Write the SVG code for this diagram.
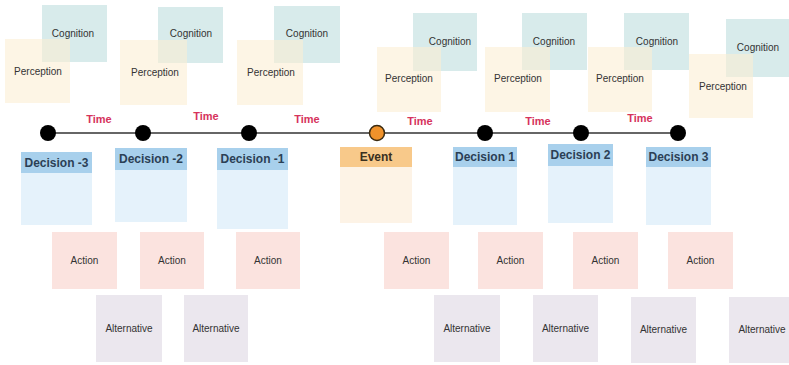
<svg xmlns="http://www.w3.org/2000/svg" width="789" height="365" viewBox="0 0 789 365">
<style>
text{font-family:"Liberation Sans",Arial,sans-serif;text-anchor:middle;dominant-baseline:central}
.cog{fill:#d8ebeb}
.per{fill:#fcefd4;opacity:0.6}
.lbl{font-size:10px;fill:#333}
.dh{fill:#a8d0ec}
.db{fill:#e5f2fb}
.eh{fill:#f8c98a}
.eb{fill:#fdf3e6}
.hd{font-size:12px;font-weight:bold;fill:#2b3f55}
.act{fill:#fbe3df}
.alt{fill:#ebe7ee}
.time{font-size:11px;font-weight:bold;fill:#d6335c}
.dot{fill:#000}
.edot{fill:#f0922b;stroke:#3a2a10;stroke-width:1.5}
.ln{stroke:#333;stroke-width:1.5;fill:none}
</style>
<rect width="789" height="365" fill="#fff"/>
<g id="connectors">
<line class="ln" x1="48" y1="133" x2="678" y2="133"/>
</g>
<g id="cp1"><rect class="cog" x="42" y="5" width="65" height="57"/><rect class="per" x="5" y="39" width="65" height="64"/><text class="lbl" x="73" y="33">Cognition</text><text class="lbl" x="38" y="71">Perception</text></g>
<g id="cp2"><rect class="cog" x="158" y="7" width="65" height="56"/><rect class="per" x="120" y="40" width="67" height="65"/><text class="lbl" x="191" y="33">Cognition</text><text class="lbl" x="155" y="72">Perception</text></g>
<g id="cp3"><rect class="cog" x="274" y="6" width="66" height="57"/><rect class="per" x="237" y="40" width="66" height="65"/><text class="lbl" x="307" y="33">Cognition</text><text class="lbl" x="271" y="72">Perception</text></g>
<g id="cp4"><rect class="cog" x="413" y="13" width="64" height="58"/><rect class="per" x="377" y="47" width="64" height="65"/><text class="lbl" x="450" y="41">Cognition</text><text class="lbl" x="409" y="78">Perception</text></g>
<g id="cp5"><rect class="cog" x="522" y="13" width="65" height="57"/><rect class="per" x="485" y="47" width="65" height="65"/><text class="lbl" x="554" y="41">Cognition</text><text class="lbl" x="518" y="78">Perception</text></g>
<g id="cp6"><rect class="cog" x="624" y="13" width="65" height="57"/><rect class="per" x="588" y="47" width="64" height="65"/><text class="lbl" x="657" y="41">Cognition</text><text class="lbl" x="620" y="78">Perception</text></g>
<g id="cp7"><rect class="cog" x="726" y="19" width="63" height="58"/><rect class="per" x="689" y="54" width="64" height="64"/><text class="lbl" x="758" y="47">Cognition</text><text class="lbl" x="723" y="86">Perception</text></g>
<g id="times">
<text class="time" x="99" y="119">Time</text>
<text class="time" x="206" y="116">Time</text>
<text class="time" x="307" y="119">Time</text>
<text class="time" x="420" y="121">Time</text>
<text class="time" x="538" y="121">Time</text>
<text class="time" x="640" y="118">Time</text>
</g>
<g id="dots">
<circle class="dot" cx="48" cy="133" r="8"/>
<circle class="dot" cx="143" cy="133" r="8"/>
<circle class="dot" cx="249" cy="133" r="8"/>
<circle class="edot" cx="377" cy="133" r="7.5"/>
<circle class="dot" cx="485" cy="133" r="8"/>
<circle class="dot" cx="581" cy="133" r="8"/>
<circle class="dot" cx="678" cy="133" r="8"/>
</g>
<g id="dm3"><rect class="db" x="21" y="152" width="71" height="73"/><rect class="dh" x="21" y="152" width="71" height="21"/><text class="hd" x="56.5" y="163">Decision -3</text></g>
<g id="dm2"><rect class="db" x="115" y="148" width="72" height="74"/><rect class="dh" x="115" y="148" width="72" height="22"/><text class="hd" x="151" y="159">Decision -2</text></g>
<g id="dm1"><rect class="db" x="217" y="148" width="71" height="81"/><rect class="dh" x="217" y="148" width="71" height="22"/><text class="hd" x="252.5" y="159">Decision -1</text></g>
<g id="event"><rect class="eb" x="340" y="147" width="72" height="76"/><rect class="eh" x="340" y="147" width="72" height="20"/><text class="hd" x="376" y="157" style="fill:#3a3020">Event</text></g>
<g id="d1"><rect class="db" x="453" y="147" width="64" height="78"/><rect class="dh" x="453" y="147" width="64" height="20"/><text class="hd" x="485" y="157">Decision 1</text></g>
<g id="d2"><rect class="db" x="548" y="144" width="65" height="79"/><rect class="dh" x="548" y="144" width="65" height="22"/><text class="hd" x="580.5" y="155">Decision 2</text></g>
<g id="d3"><rect class="db" x="646" y="147" width="65" height="78"/><rect class="dh" x="646" y="147" width="65" height="20"/><text class="hd" x="678.5" y="157">Decision 3</text></g>
<g id="a1"><rect class="act" x="52" y="232" width="65" height="57"/><text class="lbl" x="84.5" y="260">Action</text></g>
<g id="a2"><rect class="act" x="140" y="232" width="64" height="57"/><text class="lbl" x="172" y="260">Action</text></g>
<g id="a3"><rect class="act" x="236" y="232" width="64" height="57"/><text class="lbl" x="268" y="260">Action</text></g>
<g id="a4"><rect class="act" x="384" y="232" width="65" height="57"/><text class="lbl" x="416.5" y="260">Action</text></g>
<g id="a5"><rect class="act" x="478" y="232" width="65" height="57"/><text class="lbl" x="510.5" y="260">Action</text></g>
<g id="a6"><rect class="act" x="573" y="232" width="65" height="57"/><text class="lbl" x="605.5" y="260">Action</text></g>
<g id="a7"><rect class="act" x="668" y="232" width="65" height="57"/><text class="lbl" x="700.5" y="260">Action</text></g>
<g id="alt1"><rect class="alt" x="96" y="295" width="66" height="67"/><text class="lbl" x="129" y="328">Alternative</text></g>
<g id="alt2"><rect class="alt" x="184" y="295" width="64" height="67"/><text class="lbl" x="216" y="328">Alternative</text></g>
<g id="alt3"><rect class="alt" x="434" y="295" width="66" height="67"/><text class="lbl" x="467" y="328">Alternative</text></g>
<g id="alt4"><rect class="alt" x="533" y="295" width="65" height="67"/><text class="lbl" x="565.5" y="328">Alternative</text></g>
<g id="alt5"><rect class="alt" x="631" y="297" width="65" height="66"/><text class="lbl" x="663.5" y="329">Alternative</text></g>
<g id="alt6"><rect class="alt" x="729" y="297" width="60" height="66"/><text class="lbl" x="762" y="329">Alternative</text></g>
</svg>
